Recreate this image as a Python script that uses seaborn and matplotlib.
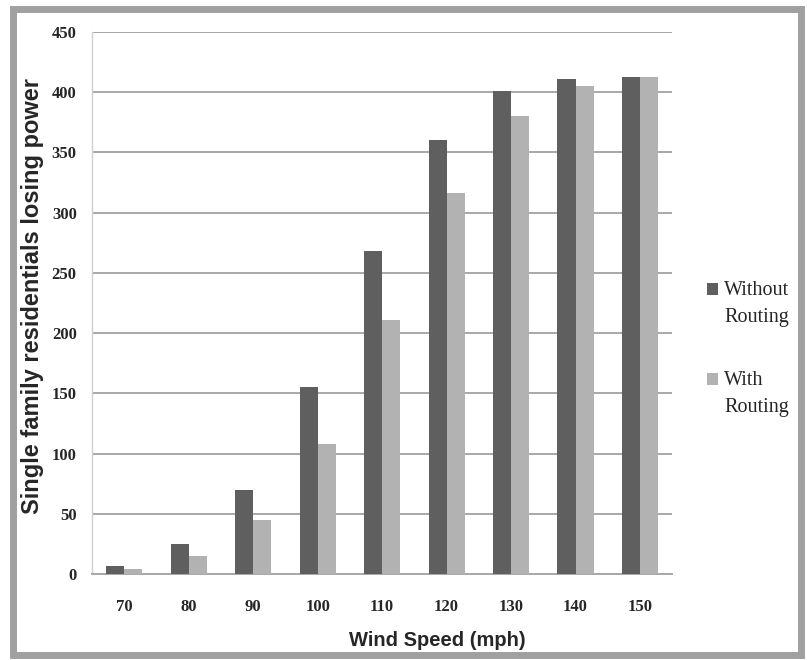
import matplotlib
matplotlib.use("Agg")
import matplotlib.pyplot as plt
import seaborn as sns
import pandas as pd
from matplotlib.patches import Rectangle, Patch
from matplotlib.legend_handler import HandlerPatch

speeds = ["70", "80", "90", "100", "110", "120", "130", "140", "150"]
without_routing = [7, 25, 70, 155, 268, 360, 401, 411, 413]
with_routing = [4, 15, 45, 108, 211, 316, 380, 405, 413]
series_names = ["Without\nRouting", "With\nRouting"]
colors = ["#5f5f5f", "#b2b2b2"]

df = pd.DataFrame({
    "speed": speeds * 2,
    "value": without_routing + with_routing,
    "series": [series_names[0]] * len(speeds) + [series_names[1]] * len(speeds),
})

sns.set_style("white")
fig = plt.figure(figsize=(8.07, 6.6), dpi=100)
fig.patch.set_facecolor("white")
# gray frame
fig.add_artist(Rectangle((0.016, 0.008), 0.976, 0.979, transform=fig.transFigure,
                         fill=False, edgecolor="#a0a0a0", linewidth=5))
ax = fig.add_axes([0.114, 0.13, 0.719, 0.8215])

sns.barplot(data=df, x="speed", y="value", hue="series", order=speeds,
            hue_order=series_names, palette=colors,
            width=0.56, gap=0, ax=ax, saturation=1, errorbar=None,
            linewidth=0, edgecolor="none", zorder=3, legend=False)

ax.set_ylim(0, 450)
ax.set_yticks(range(0, 451, 50))
ax.yaxis.grid(True, color="#a8a8a8", linewidth=1.4, zorder=0)
ax.set_axisbelow(True)
for s in ["top", "right"]:
    ax.spines[s].set_visible(False)
ax.spines["left"].set_color("#d0d0d0")
ax.spines["left"].set_linewidth(1.0)
ax.spines["bottom"].set_color("#a8a8a8")
ax.spines["bottom"].set_linewidth(1.4)

# ticks between categories on x
ax.set_xticks(range(len(speeds)))
ax.set_xticklabels(speeds, fontfamily="Liberation Serif", fontweight="bold", fontsize=12)
ax.tick_params(axis="x", length=0, pad=18)
ax.set_xticks([i - 0.5 for i in range(len(speeds) + 1)], minor=True)
ax.tick_params(axis="x", which="minor", length=6, color="#888888", width=1)
ax.tick_params(axis="y", length=5, color="#a8a8a8", width=1.2, pad=6)
for lab in ax.get_yticklabels():
    lab.set_fontfamily("Liberation Serif")
    lab.set_fontweight("bold")
    lab.set_fontsize(12)
ax.set_xlim(-0.5, len(speeds) - 0.5)

ax.set_xlabel("Wind Speed (mph)", fontfamily="Liberation Sans", fontweight="bold",
              fontsize=14.5)
ax.xaxis.set_label_coords(0.595, -0.105)
ax.set_ylabel("Single family residentials losing power", fontfamily="Liberation Sans",
              fontweight="bold", fontsize=17)
ax.yaxis.set_label_coords(-0.083, 0.513)


def top_patch(legend, orig_handle, xdescent, ydescent, width, height, fontsize):
    return Rectangle((-xdescent, -ydescent + 0.75 * fontsize), width, height)


handles = [Patch(facecolor=c, edgecolor="none", linewidth=0) for c in colors]
leg = ax.legend(handles, series_names, loc="upper left",
                bbox_to_anchor=(1.06, 0.54), frameon=False,
                prop={"family": "Liberation Serif", "size": 14.5},
                handlelength=0.55, handleheight=0.55, handletextpad=0.3,
                labelspacing=2.2, borderpad=0, borderaxespad=0,
                handler_map={Patch: HandlerPatch(patch_func=top_patch)})
for t in leg.get_texts():
    t.set_multialignment("left")
    t.set_linespacing(1.55)

fig.savefig("out.png", dpi=100)
